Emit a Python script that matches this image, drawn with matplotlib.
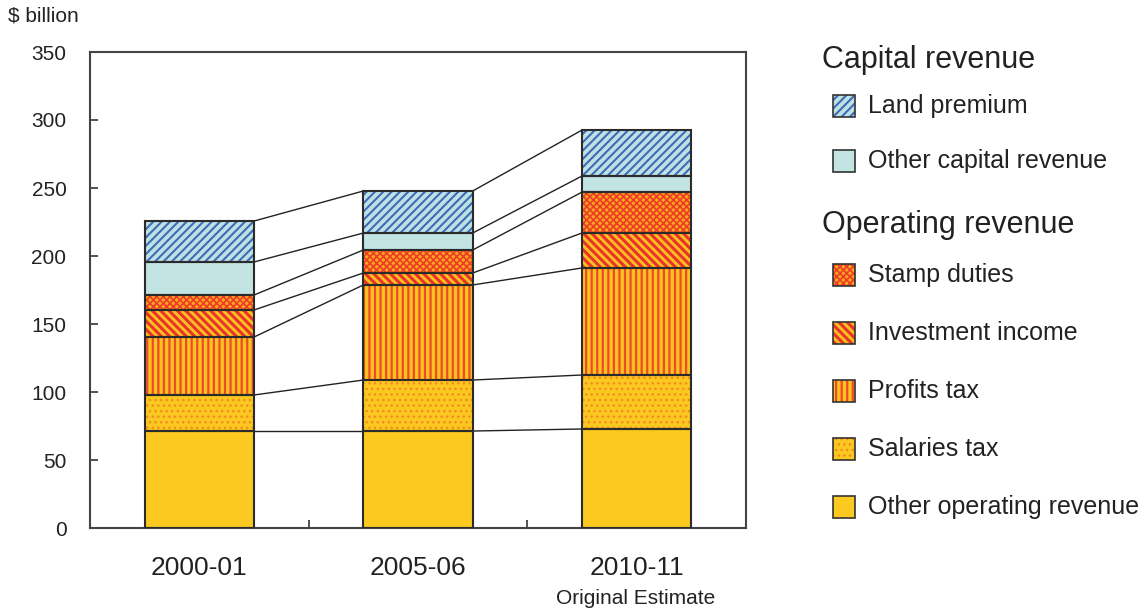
import matplotlib
matplotlib.use("Agg")
import matplotlib.pyplot as plt
from matplotlib.patches import Rectangle
import numpy as np

plt.rcParams['font.family'] = ['Liberation Sans', 'DejaVu Sans']
plt.rcParams['hatch.linewidth'] = 2.0

# ---- data ----
years = ["2000-01", "2005-06", "2010-11"]
other_operating = [71.3, 71.3, 72.8]
salaries_tax = [26.5, 37.5, 39.7]
profits_tax = [42.6, 69.9, 78.7]
investment_income = [19.9, 8.8, 25.7]
stamp_duties = [11.0, 16.9, 30.1]
other_capital = [24.3, 12.5, 11.8]
land_premium = [30.1, 30.9, 33.8]

series_names = ["Other operating revenue", "Salaries tax", "Profits tax",
                "Investment income", "Stamp duties", "Other capital revenue",
                "Land premium"]
series_values = [other_operating, salaries_tax, profits_tax, investment_income,
                 stamp_duties, other_capital, land_premium]

# style per series: (facecolor, hatch, hatchcolor, hatch linewidth)
styles = {
    "Other operating revenue": ('#fbc91f', None, None, 0),
    "Salaries tax": ('#fbc81f', '...', '#f58a22', 1.0),
    "Profits tax": ('#fcc21e', '|||', '#ee4a2b', 1.6),
    "Investment income": ('#fcc21e', '\\\\\\\\', '#e8342a', 2.2),
    "Stamp duties": ('#f9a81b', 'xxxxx', '#ee3b2a', 1.2),
    "Other capital revenue": ('#c2e5e3', None, None, 0),
    "Land premium": ('#bfe1e6', '////', '#3d6db6', 1.5),
}
edge = '#2b2b2b'

fig = plt.figure(figsize=(11.45, 6.10), dpi=100)
ax = fig.add_axes([90/1145, 1-528/610, (746-90)/1145, (528-52)/610])

x = np.arange(len(years))
width = 0.5
bottom = np.zeros(len(years))
cum_levels = []
for name, vals in zip(series_names, series_values):
    vals = np.array(vals)
    fc, hatch, hc, hlw = styles[name]
    if hatch:
        plt.rcParams['hatch.linewidth'] = hlw
        ax.bar(x, vals, width, bottom=bottom, color=fc, hatch=hatch,
               edgecolor=hc, linewidth=0, zorder=2)
    else:
        ax.bar(x, vals, width, bottom=bottom, color=fc, linewidth=0, zorder=2)
    ax.bar(x, vals, width, bottom=bottom, facecolor='none', edgecolor=edge,
           linewidth=1.5, zorder=3)
    bottom = bottom + vals
    cum_levels.append(bottom.copy())

# connector lines
for lev in cum_levels:
    for i in range(len(years) - 1):
        ax.plot([x[i] + width/2, x[i+1] - width/2], [lev[i], lev[i+1]],
                color='#222222', linewidth=1.0, zorder=1)

ax.set_xlim(-0.5, 2.5)
ax.set_ylim(0, 350)
ax.set_yticks(np.arange(0, 351, 50))
ax.tick_params(axis='y', direction='in', length=6, width=1.2, labelsize=15,
               pad=17, colors='#333333', labelcolor='#222222')
ax.set_xticks(x)
ax.set_xticklabels(years)
ax.tick_params(axis='x', which='major', length=0, labelsize=19, pad=20,
               labelcolor='#222222')
ax.set_xticks([0.5, 1.5], minor=True)
ax.tick_params(axis='x', which='minor', direction='in', length=6, width=1.2,
               colors='#333333')
for s in ax.spines.values():
    s.set_color('#444444')
    s.set_linewidth(1.5)

fig.text(636/1145, 1-598/610, "Original Estimate", ha='center', va='center',
         fontsize=15, color='#222222')
fig.text(8/1145, 1-16/610, "$ billion", ha='left', va='center', fontsize=15,
         color='#222222')

# ---- legend ----
def legend_item(name, ycen):
    fc, hatch, hc, hlw = styles[name]
    size = 22
    x0 = 833 / 1145
    y0 = 1 - (ycen + size/2) / 610
    w = size / 1145
    h = size / 610
    if hatch:
        plt.rcParams['hatch.linewidth'] = hlw
        fig.patches.append(Rectangle((x0, y0), w, h, transform=fig.transFigure,
                                     facecolor=fc, hatch=hatch, edgecolor=hc,
                                     linewidth=0))
    else:
        fig.patches.append(Rectangle((x0, y0), w, h, transform=fig.transFigure,
                                     facecolor=fc, linewidth=0))
    fig.patches.append(Rectangle((x0, y0), w, h, transform=fig.transFigure,
                                 facecolor='none', edgecolor='#333333',
                                 linewidth=1.2))
    fig.text(868/1145, 1 - ycen/610, name, ha='left', va='center',
             fontsize=18, color='#222222')

fig.text(822/1145, 1 - 60/610, "Capital revenue", ha='left', va='center',
         fontsize=22, color='#222222')
fig.text(822/1145, 1 - 225/610, "Operating revenue", ha='left', va='center',
         fontsize=22, color='#222222')
legend_item("Land premium", 106)
legend_item("Other capital revenue", 161)
legend_item("Stamp duties", 275)
legend_item("Investment income", 333)
legend_item("Profits tax", 391)
legend_item("Salaries tax", 449)
legend_item("Other operating revenue", 507)

fig.savefig("out.png", dpi=100)
